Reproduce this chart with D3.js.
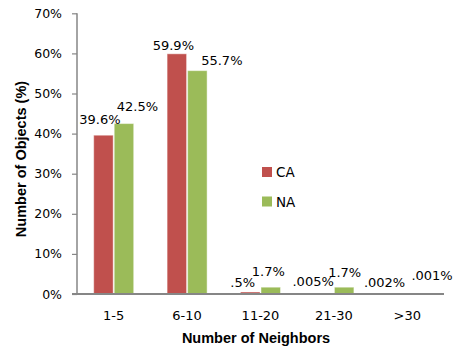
<!DOCTYPE html>
<html>
<head>
<meta charset="utf-8">
<script src="https://cdn.jsdelivr.net/npm/d3@7"></script>
<style>
  html, body { margin: 0; padding: 0; background: #fff; }
  svg { display: block; }
</style>
</head>
<body>
<div id="chart"></div>
<script>
// ---- data ----
const categories = ["1-5", "6-10", "11-20", "21-30", ">30"];
const seriesNames = ["CA", "NA"];
const caValues = [39.6, 59.9, 0.5, 0.005, 0.002];
const naValues = [42.5, 55.7, 1.7, 1.7, 0.001];
const yTicks = [0, 10, 20, 30, 40, 50, 60, 70];

// ---- layout / style ----
const W = 456, H = 350;
const colors = { CA: "#C0504D", NA: "#9BBB59" };
// manual label nudges (dx from bar centre, dy from bar top to baseline)
const caNudge = [[-3.5, -11], [-3.5, -4], [-7.5, -5], [-10.5, -8], [-12.5, -7]];
const naNudge = [[13.5, -13], [24.5, -6], [-2.5, -11], [0.5, -10], [14.5, -14]];

const svg = d3.select("#chart").append("svg").attr("width", W).attr("height", H);

const x0 = d3.scaleBand().domain(categories).range([77, 444])
  .paddingInner(0.455).paddingOuter(0.2275);
const x1 = d3.scaleBand().domain(seriesNames).range([0, x0.bandwidth()]).paddingInner(0.05);
const y = d3.scaleLinear().domain([0, 70]).range([294, 13.3]);

const table = categories.map((c, i) => ({
  cat: c,
  vals: [
    { s: "CA", v: caValues[i], n: caNudge[i] },
    { s: "NA", v: naValues[i], n: naNudge[i] }
  ]
}));

const fmt = d => String(d).replace(/^0\./, ".") + "%";
const axisColor = "#868686";

// y axis
const yAxis = d3.axisLeft(y).tickValues(yTicks).tickFormat(d => d + "%").tickSize(5).tickPadding(10);
const gy = svg.append("g").attr("transform", "translate(77,0)").call(yAxis);
gy.select(".domain").attr("stroke", axisColor).attr("stroke-width", 1.5).attr("d", "M0,13.3V294");
gy.selectAll(".tick line").attr("stroke", axisColor).attr("stroke-width", 1.2);
gy.selectAll(".tick text").attr("font-family", "DejaVu Sans, sans-serif").attr("font-size", 12.5).attr("fill", "#000");

// bars
const groups = svg.append("g").selectAll("g").data(table).join("g")
  .attr("transform", d => `translate(${x0(d.cat)},0)`);
groups.selectAll("rect").data(d => d.vals).join("rect")
  .attr("x", d => x1(d.s))
  .attr("width", x1.bandwidth())
  .attr("y", d => y(d.v))
  .attr("height", d => y(0) - y(d.v))
  .attr("fill", d => colors[d.s])
  .attr("stroke", "#ffffff")
  .attr("stroke-opacity", 0.45)
  .attr("stroke-width", 1);

// data labels
groups.selectAll("text").data(d => d.vals).join("text")
  .attr("x", d => x1(d.s) + x1.bandwidth() / 2 + d.n[0])
  .attr("y", d => y(d.v) + d.n[1])
  .attr("text-anchor", "middle")
  .attr("font-family", "DejaVu Sans, sans-serif")
  .attr("font-size", 13)
  .attr("fill", "#000")
  .text(d => fmt(d.v));

// x axis
const xAxis = d3.axisBottom(x0).tickSize(0).tickPadding(17);
const gx = svg.append("g").attr("transform", "translate(0,294)").call(xAxis);
gx.select(".domain").attr("stroke", axisColor).attr("stroke-width", 1.8).attr("d", "M72,0H444");
gx.selectAll(".tick text").attr("font-family", "DejaVu Sans, sans-serif").attr("font-size", 13).attr("fill", "#000");

// axis titles
svg.append("text")
  .attr("transform", "translate(26,159) rotate(-90)")
  .attr("text-anchor", "middle")
  .attr("font-family", "Liberation Sans, Arial, sans-serif")
  .attr("font-weight", "bold")
  .attr("font-size", 14.5)
  .text("Number of Objects (%)");
svg.append("text")
  .attr("x", 256).attr("y", 343)
  .attr("text-anchor", "middle")
  .attr("font-family", "Liberation Sans, Arial, sans-serif")
  .attr("font-weight", "bold")
  .attr("font-size", 14.5)
  .text("Number of Neighbors");

// legend
const lg = svg.append("g").selectAll("g").data(seriesNames).join("g")
  .attr("transform", (d, i) => `translate(262,${167 + i * 29.5})`);
lg.append("rect").attr("width", 10).attr("height", 10).attr("fill", d => colors[d]);
lg.append("text").attr("x", 14).attr("y", 10)
  .attr("font-family", "DejaVu Sans, sans-serif").attr("font-size", 13.5).attr("fill", "#000")
  .text(d => d);
</script>
</body>
</html>
